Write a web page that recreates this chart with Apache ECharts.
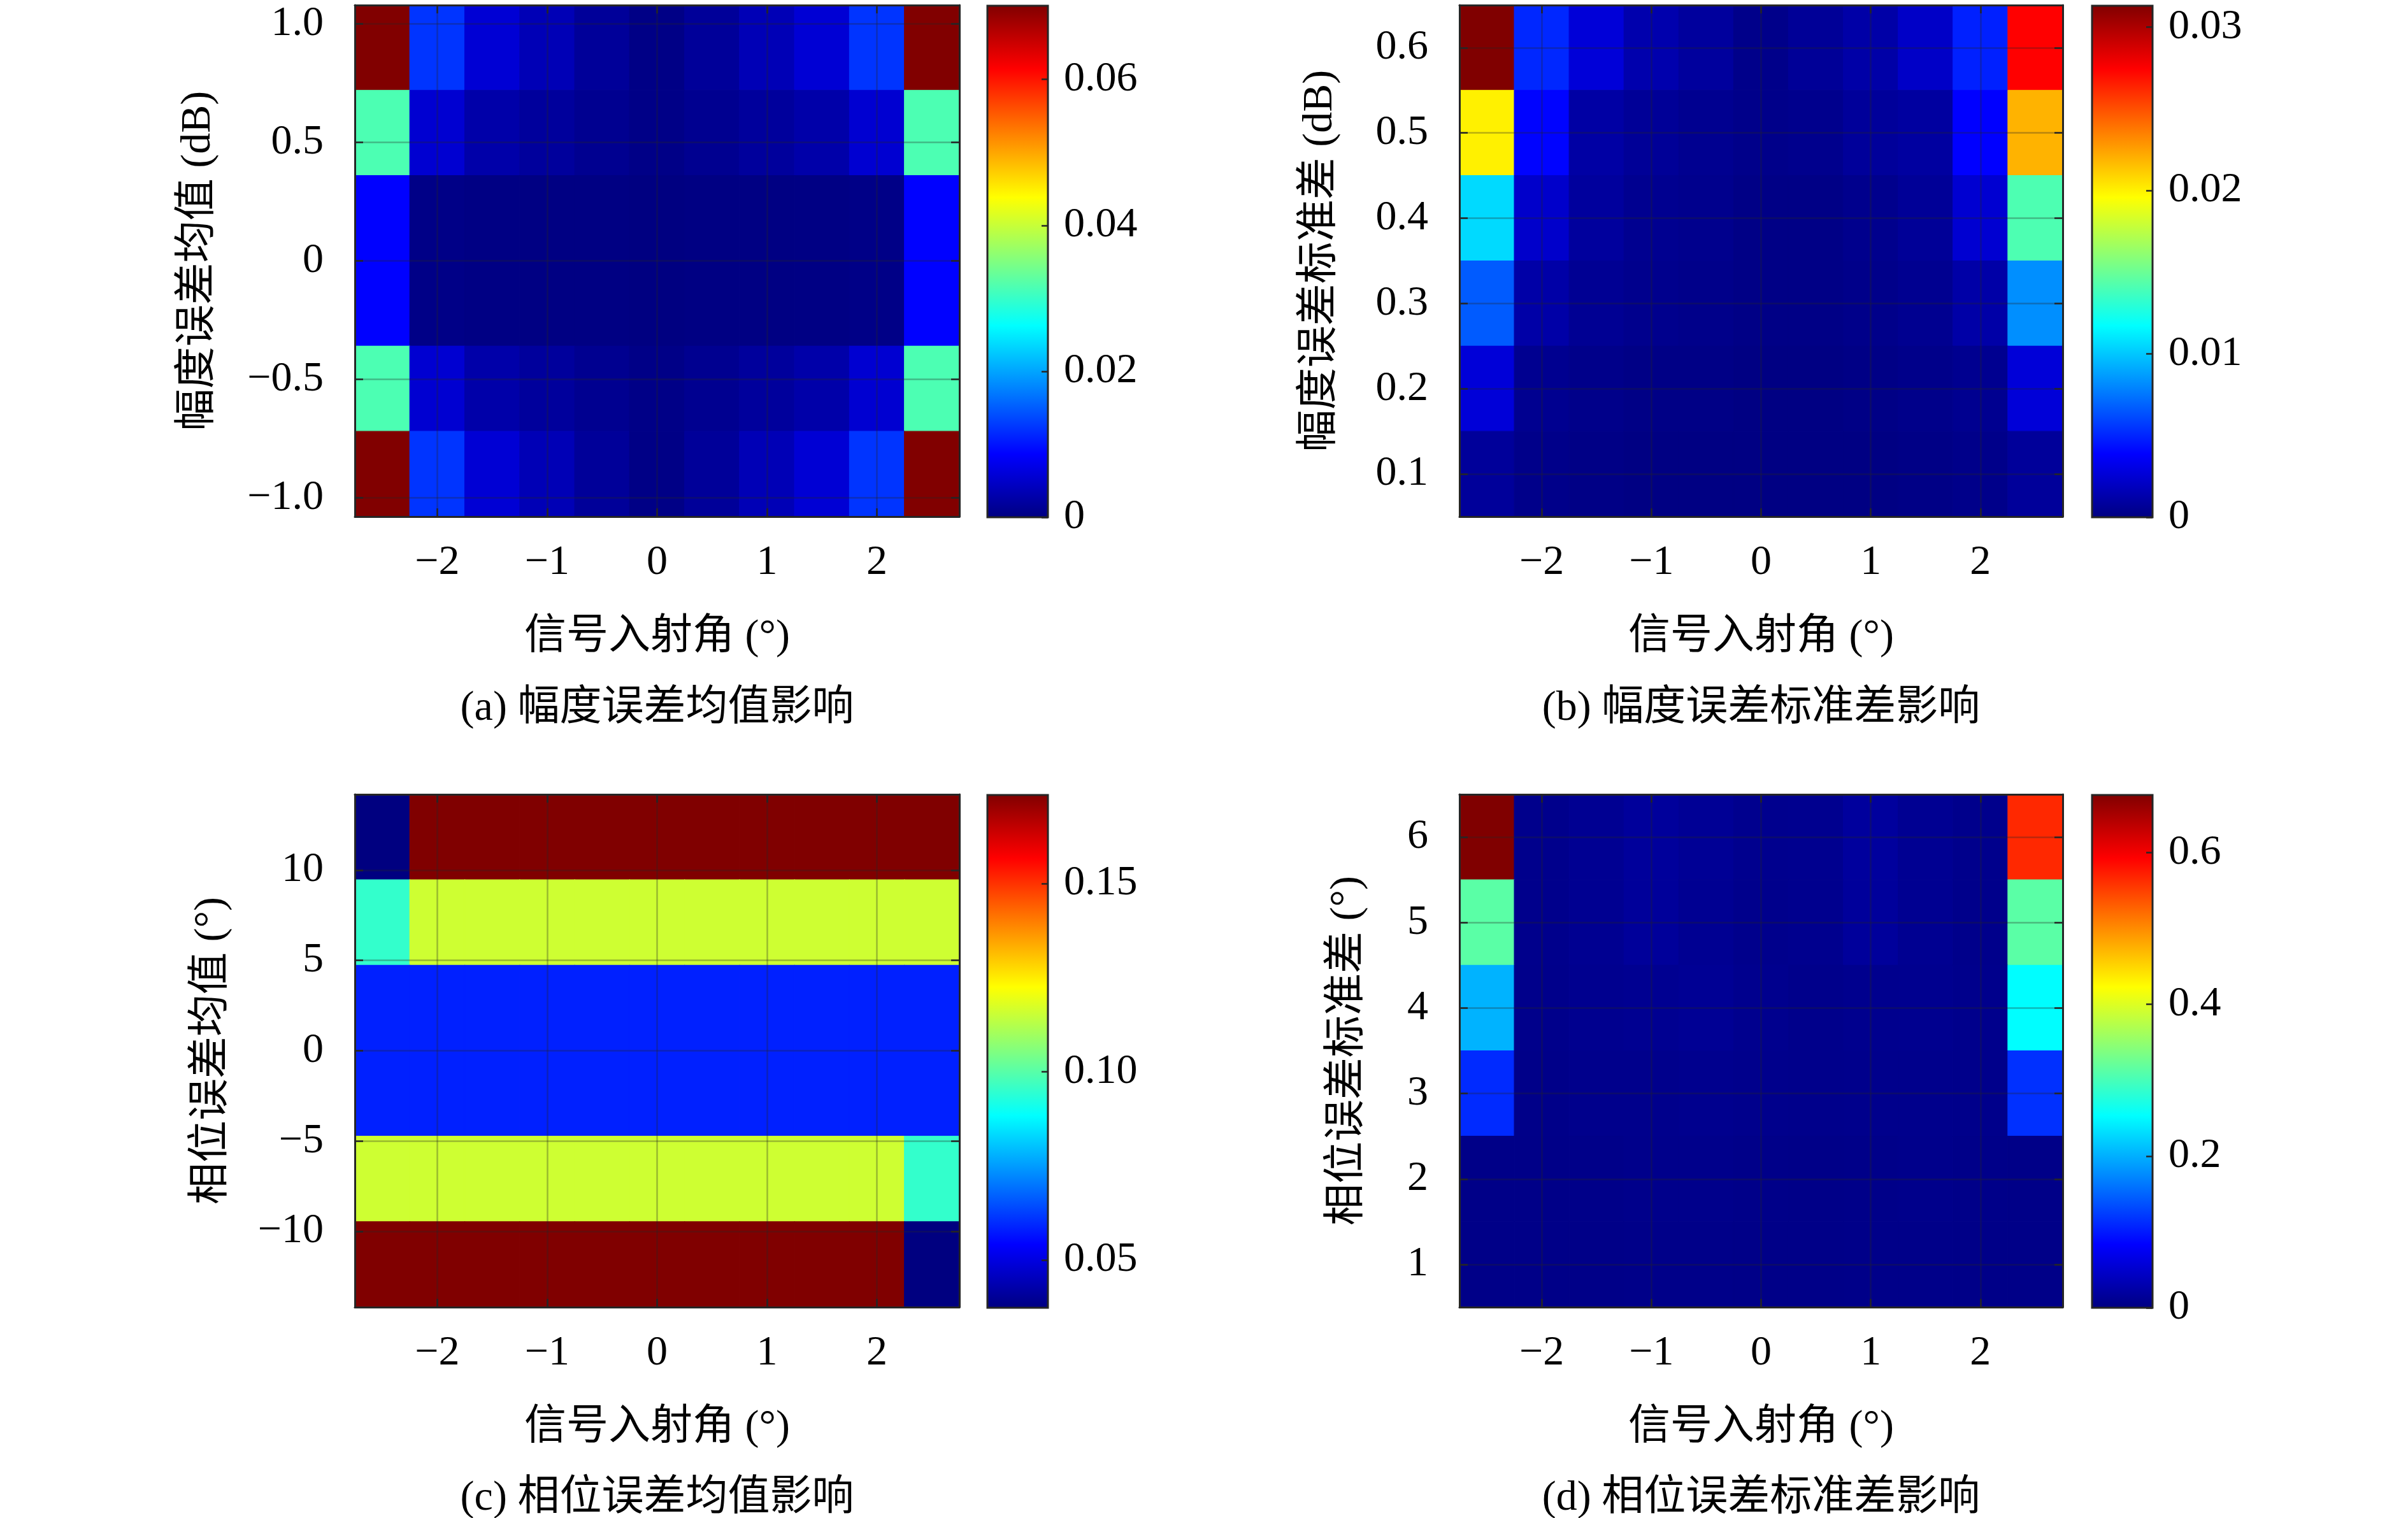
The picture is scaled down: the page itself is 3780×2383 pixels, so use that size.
<!DOCTYPE html>
<html>
<head>
<meta charset="utf-8">
<script src="https://cdn.jsdelivr.net/npm/echarts@6/dist/echarts.min.js"></script>
<style>
html,body{margin:0;padding:0;background:#ffffff;}
#chart{width:3780px;height:2383px;}
</style>
</head>
<body>
<div id="chart"></div>
<script>
// ---------------- data ----------------
const angles = [-2.5, -2, -1.5, -1, -0.5, 0, 0.5, 1, 1.5, 2, 2.5];
const xTicks = [-2, -1, 0, 1, 2];

// (a) amplitude-error mean (rows listed top to bottom)
const ampMeanLevels = [0.9, 0.54, 0.18, -0.18, -0.54, -0.9];
const ampMeanValues = [
  [0.0700, 0.0123, 0.0058, 0.0037, 0.0017, 0.0004, 0.0017, 0.0037, 0.0058, 0.0123, 0.0700],
  [0.0315, 0.0056, 0.0028, 0.0019, 0.0011, 0.0005, 0.0011, 0.0019, 0.0028, 0.0056, 0.0315],
  [0.0088, 0.0005, 0.0003, 0.0002, 0.0002, 0.0001, 0.0002, 0.0002, 0.0003, 0.0005, 0.0088],
  [0.0088, 0.0005, 0.0003, 0.0002, 0.0002, 0.0001, 0.0002, 0.0002, 0.0003, 0.0005, 0.0088],
  [0.0315, 0.0056, 0.0028, 0.0019, 0.0011, 0.0005, 0.0011, 0.0019, 0.0028, 0.0056, 0.0315],
  [0.0700, 0.0123, 0.0058, 0.0037, 0.0017, 0.0004, 0.0017, 0.0037, 0.0058, 0.0123, 0.0700]
];
const ampMeanRange = [0, 0.0701];
const ampMeanYTicks = [-1, -0.5, 0, 0.5, 1];
const ampMeanBarTicks = [0, 0.02, 0.04, 0.06];

// (b) amplitude-error standard deviation
const ampStdLevels = [0.6, 0.5, 0.4, 0.3, 0.2, 0.1];
const ampStdValues = [
  [0.0313, 0.0051, 0.0027, 0.0014, 0.0009, 0.0003, 0.0007, 0.0012, 0.0022, 0.0049, 0.0274],
  [0.0200, 0.0040, 0.0011, 0.0007, 0.0005, 0.0003, 0.0004, 0.0008, 0.0010, 0.0039, 0.0219],
  [0.0106, 0.0023, 0.0009, 0.0005, 0.0004, 0.0002, 0.0002, 0.0004, 0.0007, 0.0025, 0.0141],
  [0.0067, 0.0012, 0.0006, 0.0004, 0.0003, 0.0002, 0.0002, 0.0003, 0.0005, 0.0012, 0.0083],
  [0.0027, 0.0005, 0.0003, 0.0002, 0.0002, 0.0001, 0.0001, 0.0002, 0.0003, 0.0005, 0.0027],
  [0.0008, 0.0003, 0.0002, 0.0001, 0.0001, 0.0001, 0.0001, 0.0001, 0.0002, 0.0003, 0.0008]
];
const ampStdRange = [0, 0.0313];
const ampStdYTicks = [0.1, 0.2, 0.3, 0.4, 0.5, 0.6];
const ampStdBarTicks = [0, 0.01, 0.02, 0.03];

// (c) phase-error mean
const phaseMeanLevels = [11.825, 7.095, 2.365, -2.365, -7.095, -11.825];
const phaseMeanValues = [
  [0.0373, 0.1735, 0.1735, 0.1735, 0.1735, 0.1735, 0.1735, 0.1735, 0.1735, 0.1735, 0.1735],
  [0.0952, 0.1158, 0.1158, 0.1158, 0.1158, 0.1158, 0.1158, 0.1158, 0.1158, 0.1158, 0.1158],
  [0.0586, 0.0586, 0.0586, 0.0586, 0.0586, 0.0586, 0.0586, 0.0586, 0.0586, 0.0586, 0.0586],
  [0.0586, 0.0586, 0.0586, 0.0586, 0.0586, 0.0586, 0.0586, 0.0586, 0.0586, 0.0586, 0.0586],
  [0.1158, 0.1158, 0.1158, 0.1158, 0.1158, 0.1158, 0.1158, 0.1158, 0.1158, 0.1158, 0.0952],
  [0.1735, 0.1735, 0.1735, 0.1735, 0.1735, 0.1735, 0.1735, 0.1735, 0.1735, 0.1735, 0.0373]
];
const phaseMeanRange = [0.0373, 0.1735];
const phaseMeanYTicks = [-10, -5, 0, 5, 10];
const phaseMeanBarTicks = [0.05, 0.10, 0.15];

// (d) phase-error standard deviation
const phaseStdLevels = [6, 5, 4, 3, 2, 1];
const phaseStdValues = [
  [0.676, 0.008, 0.012, 0.018, 0.014, 0.009, 0.010, 0.019, 0.012, 0.008, 0.565],
  [0.313, 0.008, 0.011, 0.017, 0.012, 0.008, 0.009, 0.018, 0.011, 0.007, 0.313],
  [0.203, 0.007, 0.010, 0.011, 0.013, 0.009, 0.007, 0.009, 0.010, 0.008, 0.253],
  [0.112, 0.006, 0.008, 0.008, 0.009, 0.008, 0.007, 0.008, 0.008, 0.007, 0.116],
  [0.005, 0.005, 0.006, 0.007, 0.007, 0.006, 0.005, 0.006, 0.007, 0.006, 0.005],
  [0.005, 0.005, 0.005, 0.006, 0.006, 0.005, 0.005, 0.006, 0.006, 0.005, 0.005]
];
const phaseStdRange = [0, 0.676];
const phaseStdYTicks = [1, 2, 3, 4, 5, 6];
const phaseStdBarTicks = [0, 0.2, 0.4, 0.6];

const xName = '信号入射角 (°)';

// ---------------- styling ----------------
const JET = ['#000080', '#0000ff', '#0080ff', '#00ffff', '#80ff80', '#ffff00', '#ff8000', '#ff0000', '#800000'];
const FONT = "'Liberation Serif', 'Noto Sans CJK SC', serif";
const FS = 66;
const INK = '#262626';
const TEXT = '#000000';
const GRIDLINE = 'rgba(38,38,38,0.32)';

const minus = s => s.replace('-', '\u2212');
const fmtFixed = d => v => minus(v === 0 ? '0' : Number(v).toFixed(d));
const fmtFixedAll = d => v => minus(Number(v).toFixed(d));
const fmtInt = v => minus(String(Math.round(v)));

const panels = [
  { levels: ampMeanLevels, values: ampMeanValues, range: ampMeanRange, yTicks: ampMeanYTicks, barTicks: ampMeanBarTicks,
    yFmt: fmtFixed(1), barFmt: fmtFixed(2), yName: '幅度误差均值 (dB)', caption: '(a) 幅度误差均值影响',
    left: 557, top: 8, width: 949, height: 803, barLeft: 1550, barWidth: 95, yNameGap: 212, captionY: 1113 },
  { levels: ampStdLevels, values: ampStdValues, range: ampStdRange, yTicks: ampStdYTicks, barTicks: ampStdBarTicks,
    yFmt: fmtFixedAll(1), barFmt: fmtFixed(2), yName: '幅度误差标准差 (dB)', caption: '(b) 幅度误差标准差影响',
    left: 2291, top: 8, width: 947, height: 803, barLeft: 3284, barWidth: 95, yNameGap: 185, captionY: 1113 },
  { levels: phaseMeanLevels, values: phaseMeanValues, range: phaseMeanRange, yTicks: phaseMeanYTicks, barTicks: phaseMeanBarTicks,
    yFmt: fmtInt, barFmt: fmtFixedAll(2), yName: '相位误差均值 (°)', caption: '(c) 相位误差均值影响',
    left: 557, top: 1247, width: 949, height: 805, barLeft: 1550, barWidth: 95, yNameGap: 191, captionY: 2353 },
  { levels: phaseStdLevels, values: phaseStdValues, range: phaseStdRange, yTicks: phaseStdYTicks, barTicks: phaseStdBarTicks,
    yFmt: fmtInt, barFmt: fmtFixed(1), yName: '相位误差标准差 (°)', caption: '(d) 相位误差标准差影响',
    left: 2291, top: 1247, width: 947, height: 805, barLeft: 3284, barWidth: 95, yNameGap: 142, captionY: 2353 }
];

const textStyle = { fontFamily: FONT, fontSize: FS, color: TEXT };

const grids = [], xAxes = [], yAxes = [], series = [], visualMaps = [], graphics = [];

panels.forEach((p, k) => {
  const dx = Math.abs(angles[1] - angles[0]);
  const dy = Math.abs(p.levels[0] - p.levels[1]);
  const xMin = Math.min(...angles) - dx / 2, xMax = Math.max(...angles) + dx / 2;
  const yMin = Math.min(...p.levels) - dy / 2, yMax = Math.max(...p.levels) + dy / 2;

  grids.push({ left: p.left, top: p.top, width: p.width, height: p.height, containLabel: false });
  grids.push({ left: p.barLeft, top: p.top + 1, width: p.barWidth, height: p.height, containLabel: false });
  const gi = 2 * k, bi = 2 * k + 1;

  const lineOn = { show: true, onZero: false, lineStyle: { color: INK, width: 3 } };
  const tickIn = vals => ({ show: true, inside: true, length: 13, customValues: vals, lineStyle: { color: INK, width: 2.5 } });

  // x axes: bottom (labels), top (box), colorbar x
  xAxes.push({
    type: 'value', gridIndex: gi, position: 'bottom', min: xMin, max: xMax, z: 10,
    axisLine: lineOn, axisTick: tickIn(xTicks),
    axisLabel: { show: true, customValues: xTicks, formatter: fmtInt, margin: 40, ...textStyle },
    splitLine: { show: true, lineStyle: { color: GRIDLINE, width: 2.5 } },
    name: xName, nameLocation: 'middle', nameGap: 157, nameTextStyle: { ...textStyle }
  });
  xAxes.push({
    type: 'value', gridIndex: gi, position: 'top', min: xMin, max: xMax, z: 10,
    axisLine: lineOn, axisTick: tickIn(xTicks), axisLabel: { show: false }, splitLine: { show: false }
  });
  xAxes.push({
    type: 'value', gridIndex: bi, min: 0, max: 1, show: false
  });

  // y axes: left (labels), right (box), colorbar y
  yAxes.push({
    type: 'value', gridIndex: gi, position: 'left', min: yMin, max: yMax, z: 10,
    axisLine: lineOn, axisTick: tickIn(p.yTicks),
    axisLabel: { show: true, customValues: p.yTicks, formatter: p.yFmt, margin: 49, ...textStyle },
    splitLine: { show: true, lineStyle: { color: GRIDLINE, width: 2.5 } },
    name: p.yName, nameLocation: 'middle', nameRotate: 90, nameGap: p.yNameGap, nameTextStyle: { ...textStyle }
  });
  yAxes.push({
    type: 'value', gridIndex: gi, position: 'right', min: yMin, max: yMax, z: 10,
    axisLine: lineOn, axisTick: tickIn(p.yTicks), axisLabel: { show: false }, splitLine: { show: false }
  });
  yAxes.push({
    type: 'value', gridIndex: bi, position: 'right', min: p.range[0], max: p.range[1], z: 10,
    axisLine: { show: false, onZero: false },
    axisTick: { show: true, inside: true, length: 10, customValues: p.barTicks, lineStyle: { color: INK, width: 2.5 } },
    axisLabel: { show: true, customValues: p.barTicks, formatter: p.barFmt, margin: 25, ...textStyle },
    splitLine: { show: false }
  });

  // cell data
  const cells = [];
  p.levels.forEach((lv, r) => {
    angles.forEach((a, c) => cells.push([a, lv, p.values[r][c]]));
  });

  const cellSeriesIndex = series.length;
  series.push({
    type: 'custom', xAxisIndex: 3 * k, yAxisIndex: 3 * k,
    dimensions: ['angle', 'level', 'value'], encode: { x: 0, y: 1 },
    data: cells, z: 2, silent: true,
    renderItem: (params, api) => {
      const x = api.value(0), y = api.value(1);
      const p0 = api.coord([x - dx / 2, y + dy / 2]);
      const p1 = api.coord([x + dx / 2, y - dy / 2]);
      const col = api.visual('color');
      return {
        type: 'rect',
        shape: { x: p0[0], y: p0[1], width: p1[0] - p0[0], height: p1[1] - p0[1] },
        style: { fill: col, stroke: col, lineWidth: 1.2 }
      };
    }
  });
  visualMaps.push({
    type: 'continuous', show: false, seriesIndex: cellSeriesIndex, dimension: 2,
    min: p.range[0], max: p.range[1], inRange: { color: JET }
  });

  // colorbar
  series.push({
    type: 'custom', xAxisIndex: 3 * k + 2, yAxisIndex: 3 * k + 2,
    data: [[p.range[0], p.range[1]]], z: 2, silent: true,
    renderItem: (params, api) => {
      const lo = api.value(0), hi = api.value(1);
      const p0 = api.coord([0, hi]);
      const p1 = api.coord([1, lo]);
      return {
        type: 'rect',
        shape: { x: p0[0], y: p0[1], width: p1[0] - p0[0], height: p1[1] - p0[1] },
        style: {
          fill: new echarts.graphic.LinearGradient(0, 1, 0, 0, JET.map((c, i) => ({ offset: i / (JET.length - 1), color: c }))),
          stroke: INK, lineWidth: 3
        }
      };
    }
  });

  graphics.push({
    type: 'text', x: p.left + p.width / 2, y: p.captionY, z: 20,
    style: {
      text: p.caption, font: FS + 'px ' + FONT, fill: TEXT,
      align: 'center', verticalAlign: 'middle', textAlign: 'center', textVerticalAlign: 'middle'
    }
  });
});

const chart = echarts.init(document.getElementById('chart'), null, { renderer: 'canvas' });
chart.setOption({
  backgroundColor: '#ffffff',
  animation: false,
  grid: grids,
  xAxis: xAxes,
  yAxis: yAxes,
  visualMap: visualMaps,
  series: series,
  graphic: graphics
});
</script>
</body>
</html>
